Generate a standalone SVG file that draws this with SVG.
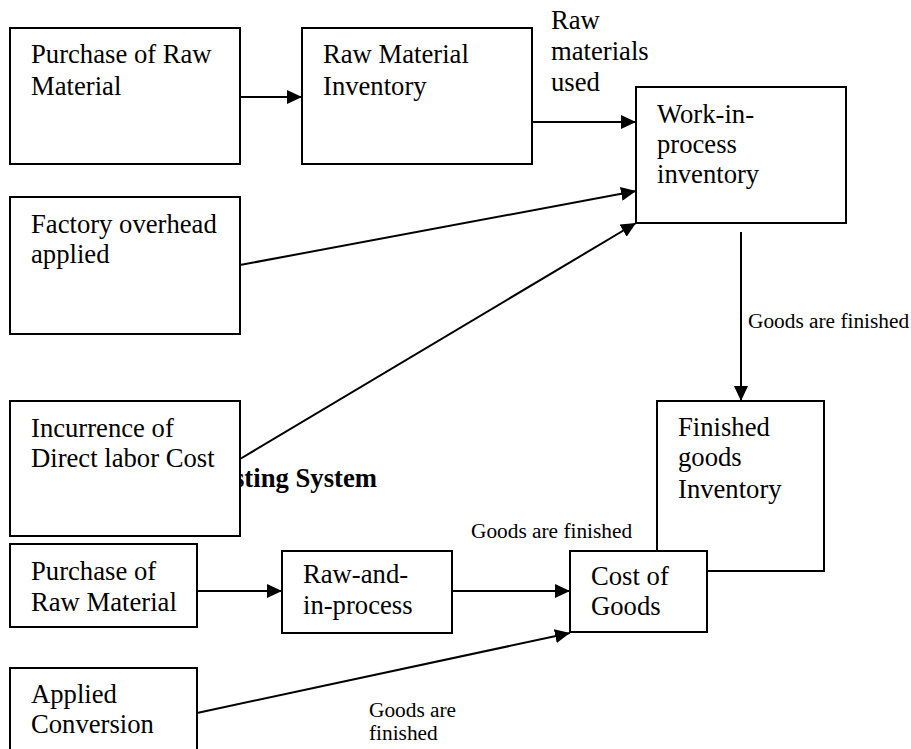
<svg xmlns="http://www.w3.org/2000/svg" width="911" height="749" viewBox="0 0 911 749">
<style>
.box{fill:#fff;stroke:#000;stroke-width:2}
.t{font-family:"Liberation Serif","Times New Roman",serif;font-size:26.67px;fill:#000}
.s{font-family:"Liberation Serif","Times New Roman",serif;font-size:21.33px;fill:#000}
.b{font-family:"Liberation Serif","Times New Roman",serif;font-size:26.67px;font-weight:bold;fill:#000}
.c{stroke:#000;stroke-width:2;fill:none;marker-end:url(#ah)}
</style>
<defs>
<marker id="ah" markerUnits="userSpaceOnUse" markerWidth="16" markerHeight="14" refX="15" refY="7" orient="auto">
<path d="M0,0 L15,7 L0,14 z" fill="#000"/>
</marker>
</defs>
<rect width="911" height="749" fill="#fff"/>
<text class="b" x="234" y="487">sting System</text>
<g id="n1"><rect class="box" x="10" y="28" width="230" height="136"/><text class="t" x="31" y="63">Purchase of Raw</text><text class="t" x="31" y="95">Material</text></g>
<g id="n2"><rect class="box" x="302" y="28" width="230" height="136"/><text class="t" x="323" y="63">Raw Material</text><text class="t" x="323" y="95">Inventory</text></g>
<g id="n3"><rect class="box" x="636" y="87" width="210" height="136"/><text class="t" x="657" y="123">Work-in-</text><text class="t" x="657" y="153">process</text><text class="t" x="657" y="183">inventory</text></g>
<g id="n4"><rect class="box" x="10" y="197" width="230" height="137"/><text class="t" x="31" y="233">Factory overhead</text><text class="t" x="31" y="263">applied</text></g>
<g id="n5"><rect class="box" x="10" y="401" width="230" height="135"/><text class="t" x="31" y="437">Incurrence of</text><text class="t" x="31" y="467">Direct labor Cost</text></g>
<g id="n6"><rect class="box" x="657" y="401" width="167" height="170"/><text class="t" x="678" y="436">Finished</text><text class="t" x="678" y="466">goods</text><text class="t" x="678" y="498">Inventory</text></g>
<g id="n7"><rect class="box" x="10" y="544" width="187" height="83"/><text class="t" x="31" y="580">Purchase of</text><text class="t" x="31" y="611">Raw Material</text></g>
<g id="n8"><rect class="box" x="282" y="551" width="170" height="82"/><text class="t" x="303" y="583">Raw-and-</text><text class="t" x="303" y="614">in-process</text></g>
<g id="n9"><rect class="box" x="570" y="551" width="137" height="81"/><text class="t" x="591" y="585">Cost of</text><text class="t" x="591" y="615">Goods</text></g>
<g id="n10"><rect class="box" x="10" y="668" width="187" height="100"/><text class="t" x="31" y="703">Applied</text><text class="t" x="31" y="733">Conversion</text></g>
<g id="labels">
<text class="t" x="551" y="29">Raw</text><text class="t" x="551" y="60">materials</text><text class="t" x="551" y="91">used</text>
<text class="s" x="748" y="328">Goods are finished</text>
<text class="s" x="471" y="538">Goods are finished</text>
<text class="s" x="369" y="717">Goods are</text><text class="s" x="369" y="740">finished</text>
</g>
<g id="connectors">
<line class="c" x1="240" y1="97" x2="302" y2="97"/>
<line class="c" x1="532" y1="122" x2="636" y2="122"/>
<line class="c" x1="240" y1="265" x2="636" y2="191"/>
<line class="c" x1="240" y1="459" x2="636" y2="223"/>
<line class="c" x1="741" y1="232" x2="741" y2="401"/>
<line class="c" x1="197" y1="591" x2="282" y2="591"/>
<line class="c" x1="452" y1="591" x2="570" y2="591"/>
<line class="c" x1="197" y1="713" x2="570" y2="633"/>
</g>
</svg>
